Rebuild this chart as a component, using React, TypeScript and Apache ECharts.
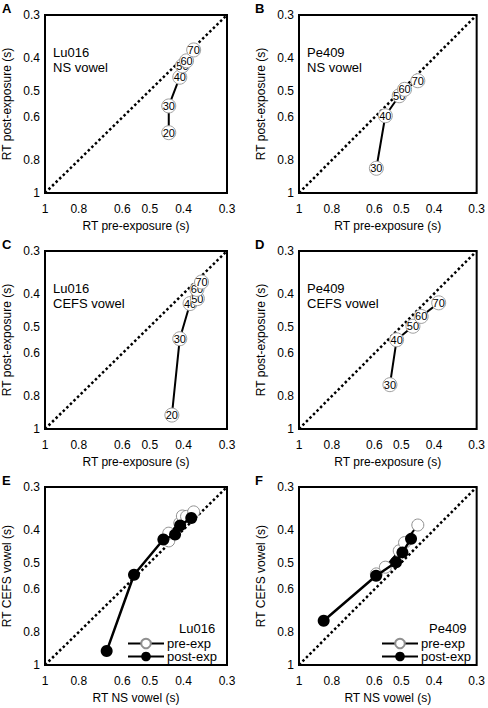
import React, { useEffect, useRef } from "react";
import * as echarts from "echarts";

// ---- data (seconds) ----
const LEVELS_LU = [20, 30, 40, 50, 60, 70];
const LEVELS_PE = [30, 40, 50, 60, 70];

const LU_NS_PRE = [0.441, 0.441, 0.41, 0.403, 0.392, 0.374];
const LU_NS_POST = [0.665, 0.555, 0.457, 0.423, 0.409, 0.38];
const LU_CEFS_PRE = [0.432, 0.41, 0.383, 0.365, 0.366, 0.355];
const LU_CEFS_POST = [0.91, 0.543, 0.428, 0.414, 0.389, 0.37];

const PE_NS_PRE = [0.592, 0.557, 0.507, 0.489, 0.447];
const PE_NS_POST = [0.846, 0.593, 0.518, 0.496, 0.468];
const PE_CEFS_PRE = [0.54, 0.516, 0.462, 0.437, 0.388];
const PE_CEFS_POST = [0.741, 0.547, 0.499, 0.467, 0.426];

const TICKS = [1, 0.8, 0.6, 0.5, 0.4, 0.3];
const AXIS_FROM = 1;
const AXIS_TO = 0.3;

const PANEL_LETTERS = ["A", "B", "C", "D", "E", "F"];
const PANEL_NOTES = ["Lu016\nNS vowel", "Pe409\nNS vowel", "Lu016\nCEFS vowel", "Pe409\nCEFS vowel"];
const LEGEND_TITLES = ["Lu016", "Pe409"];
const X_NAMES = ["RT pre-exposure (s)", "RT pre-exposure (s)", "RT pre-exposure (s)", "RT pre-exposure (s)", "RT NS vowel (s)", "RT NS vowel (s)"];
const Y_NAMES = ["RT post-exposure (s)", "RT post-exposure (s)", "RT post-exposure (s)", "RT post-exposure (s)", "RT CEFS vowel (s)", "RT CEFS vowel (s)"];

const FONT = "'Liberation Sans', Arial, Helvetica, sans-serif";

// log transform: larger t = shorter RT
const t = (v: number) => -Math.log10(v);

export default function App() {
  const ref = useRef<HTMLDivElement>(null);

  useEffect(() => {
    if (!ref.current) return;
    const chart = echarts.init(ref.current, undefined, { renderer: "svg" });

    const colLeft = [45, 299];
    const rowTop = [15, 251, 487];
    const W = 182;
    const H = 178;

    const grids: any[] = [];
    const xAxes: any[] = [];
    const yAxes: any[] = [];
    const graphics: any[] = [];
    const fmt = (v: number) => String(Number(Math.pow(10, -v).toFixed(1)));
    for (let i = 0; i < 6; i++) {
      const c = i % 2;
      const r = Math.floor(i / 2);
      grids.push({
        left: colLeft[c],
        top: rowTop[r],
        width: W,
        height: H,
        show: true,
        borderColor: "#000",
        borderWidth: 2,
        backgroundColor: "transparent",
      });
      const common = {
        type: "value",
        gridIndex: i,
        min: t(AXIS_FROM),
        max: t(AXIS_TO),
        splitLine: { show: false },
        axisLine: { show: false },
        axisTick: { show: false, customValues: TICKS.map(t) },
        nameLocation: "middle",
        nameTextStyle: { fontSize: 12, color: "#000", fontFamily: FONT },
      };
      xAxes.push({
        ...common,
        name: X_NAMES[i],
        nameGap: 27,
        axisLabel: { customValues: TICKS.map(t), formatter: fmt, fontSize: 12, color: "#000", fontFamily: FONT, margin: 10 },
      });
      yAxes.push({
        ...common,
        name: Y_NAMES[i],
        nameGap: 32,
        axisLabel: { customValues: TICKS.map(t), formatter: fmt, fontSize: 12, color: "#000", fontFamily: FONT, margin: 5 },
      });
      graphics.push({
        type: "text",
        x: c === 0 ? 2 : 255,
        y: rowTop[r] - 13,
        style: { text: PANEL_LETTERS[i], fontSize: 13, fontWeight: "bold", fontFamily: FONT, fill: "#000" },
      });
      if (i < 4) {
        graphics.push({
          type: "text",
          x: colLeft[c] + 8,
          y: rowTop[r] + 30,
          style: { text: PANEL_NOTES[i], fontSize: 13, lineHeight: 15, fontFamily: FONT, fill: "#000" },
        });
      } else {
        graphics.push({
          type: "text",
          x: c === 0 ? 179 : 429,
          y: rowTop[r] + 135,
          style: { text: LEGEND_TITLES[c], fontSize: 13, fontFamily: FONT, fill: "#000" },
        });
      }
    }

    const series: any[] = [];
    // diagonals
    for (let i = 0; i < 6; i++) {
      series.push({
        type: "line",
        xAxisIndex: i,
        yAxisIndex: i,
        data: [
          [t(AXIS_FROM), t(AXIS_FROM)],
          [t(AXIS_TO), t(AXIS_TO)],
        ],
        symbol: "none",
        silent: true,
        lineStyle: { color: "#000", width: 2.5, type: [2.5, 2.5] },
        z: 1,
      });
    }

    const labeled = [
      { x: LU_NS_PRE, y: LU_NS_POST, lv: LEVELS_LU },
      { x: PE_NS_PRE, y: PE_NS_POST, lv: LEVELS_PE },
      { x: LU_CEFS_PRE, y: LU_CEFS_POST, lv: LEVELS_LU },
      { x: PE_CEFS_PRE, y: PE_CEFS_POST, lv: LEVELS_PE },
    ];
    labeled.forEach((p, i) => {
      series.push({
        type: "line",
        xAxisIndex: i,
        yAxisIndex: i,
        data: p.x.map((v, k) => [t(v), t(p.y[k])]),
        symbol: "none",
        lineStyle: { color: "#000", width: 2 },
        z: 2,
      });
      // one series per point so that each later circle covers the earlier label
      p.x.forEach((v, k) => {
        series.push({
          type: "scatter",
          xAxisIndex: i,
          yAxisIndex: i,
          color: "#000",
          data: [[t(v), t(p.y[k]), p.lv[k]]],
          symbol: "circle",
          symbolSize: 14,
          itemStyle: { color: "#fff", borderColor: "#a0a0a0", borderWidth: 1, opacity: 1 },
          label: {
            show: true,
            position: "inside",
            formatter: (q: any) => String(q.value[2]),
            fontSize: 11,
            color: "#000",
            textBorderWidth: 0,
            textBorderColor: "transparent",
            fontFamily: FONT,
          },
          z: 3 + k,
        });
      });
    });

    const cross = [
      { preX: LU_NS_PRE, preY: LU_CEFS_PRE, postX: LU_NS_POST, postY: LU_CEFS_POST },
      { preX: PE_NS_PRE, preY: PE_CEFS_PRE, postX: PE_NS_POST, postY: PE_CEFS_POST },
    ];
    cross.forEach((p, j) => {
      const idx = 4 + j;
      series.push({
        name: "pre-exp",
        type: "line",
        xAxisIndex: idx,
        yAxisIndex: idx,
        data: p.preX.map((v, k) => [t(v), t(p.preY[k])]),
        symbol: "circle",
        symbolSize: 12,
        lineStyle: { color: "#000", width: 2 },
        itemStyle: { color: "#fff", borderColor: "#909090", borderWidth: 1 },
        z: 3,
      });
      series.push({
        name: "post-exp",
        type: "line",
        xAxisIndex: idx,
        yAxisIndex: idx,
        data: p.postX.map((v, k) => [t(v), t(p.postY[k])]),
        symbol: "circle",
        symbolSize: 12,
        lineStyle: { color: "#000", width: 2.5 },
        itemStyle: { color: "#000" },
        z: 4,
      });
    });

    const legendBase = {
      orient: "vertical",
      itemWidth: 36,
      itemHeight: 12,
      itemGap: 0,
      padding: 0,
      selectedMode: false,
      data: ["pre-exp", "post-exp"],
      textStyle: { fontSize: 13, color: "#000", fontFamily: FONT, padding: [0, 0, 0, -2] },
    };

    chart.setOption({
      animation: false,
      backgroundColor: "#fff",
      color: ["#000"],
      textStyle: { fontFamily: FONT },
      grid: grids,
      xAxis: xAxes,
      yAxis: yAxes,
      series,
      legend: [
        { ...legendBase, left: 127, top: 637 },
        { ...legendBase, left: 381, top: 637 },
      ],
      graphic: graphics,
    });

    return () => chart.dispose();
  }, []);

  return (
    <div
      ref={ref}
      style={{ position: "absolute", left: 0, top: 0, width: 488, height: 708 }}
    />
  );
}
